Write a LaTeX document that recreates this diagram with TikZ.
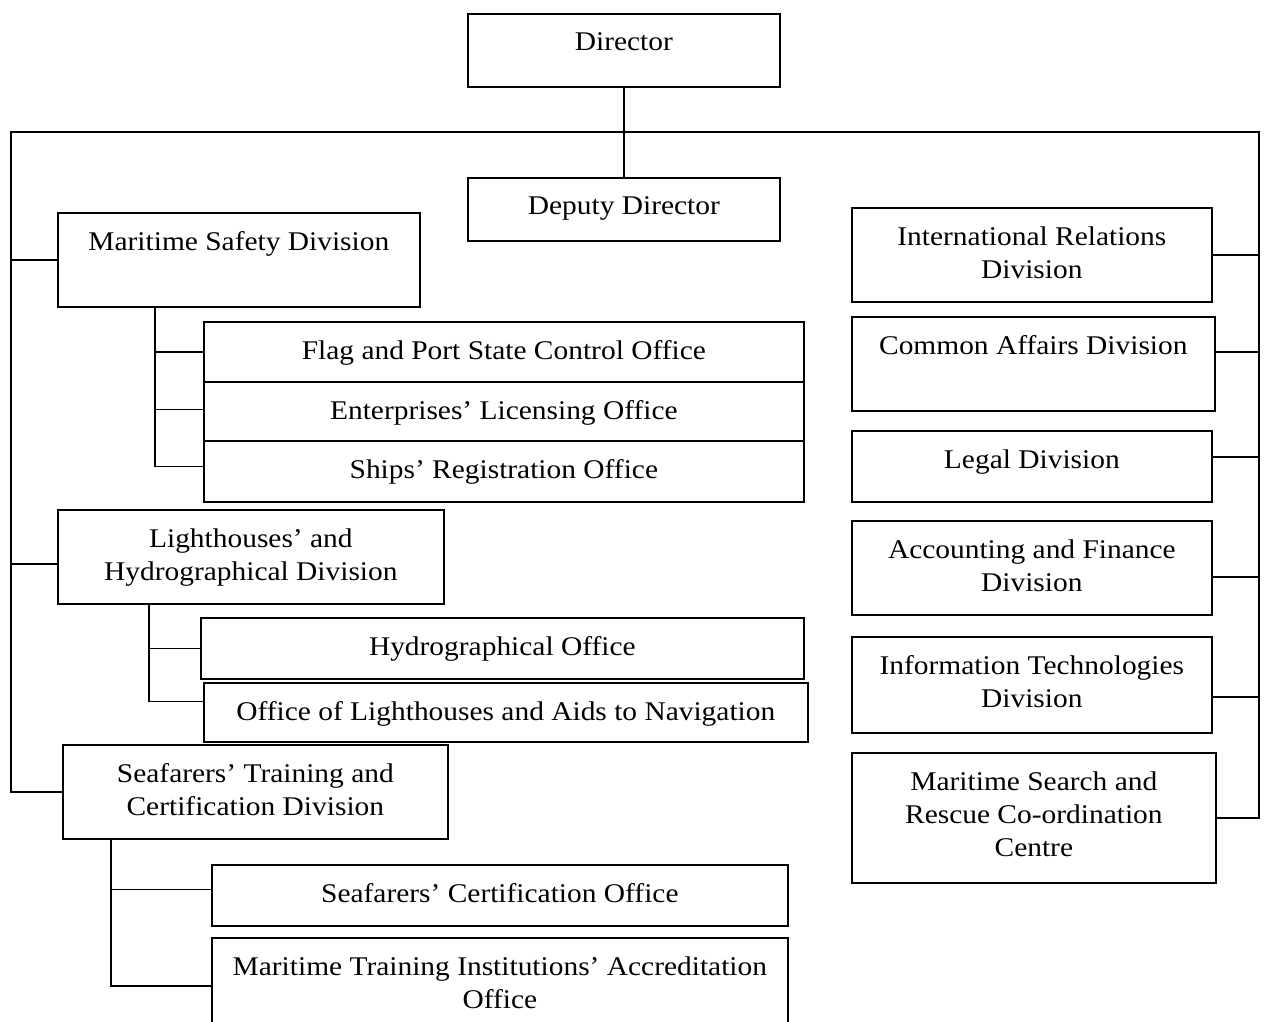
\documentclass[tikz,border=0pt]{standalone}
\usepackage{fontspec}
\setmainfont[FakeStretch=1.09]{Liberation Serif}
\tikzset{
  boxst/.style={draw, line width=1.7pt, inner sep=0pt, anchor=north west},
  txt/.style={inner sep=0pt, anchor=north, align=center, font=\fontsize{27}{33}\selectfont},
  link/.style={line width=1.7pt},
}
\newcommand\orgbox[6]{%
  \node[boxst, minimum width={(#4-#2)*1pt}, minimum height={(#5-#3)*1pt}] (#1) at (#2,#3) {};
  \node[txt] (#1t) at ([yshift=-19.5pt]#1.north) {#6};
}
\begin{document}
\begin{tikzpicture}[x=1pt,y=-1pt]
\path[use as bounding box] (0,0) rectangle (1264,1021);
\orgbox{dir}{467}{13}{779}{86}{Director}
\orgbox{dep}{467}{177}{779}{240}{Deputy Director}
\orgbox{msd}{57}{212}{419}{306}{Maritime Safety Division}
\orgbox{fps}{203}{321}{803}{381}{Flag and Port State Control Office}
\orgbox{elo}{203}{381}{803}{440}{Enterprises’ Licensing Office}
\orgbox{sro}{203}{440}{803}{501}{Ships’ Registration Office}
\orgbox{lhd}{57}{509}{443}{603}{Lighthouses’ and\\Hydrographical Division}
\orgbox{hyo}{200}{617}{803}{678}{Hydrographical Office}
\orgbox{ola}{203}{682}{807}{741}{Office of Lighthouses and Aids to Navigation}
\orgbox{stc}{62}{744}{447}{838}{Seafarers’ Training and\\Certification Division}
\orgbox{sco}{211}{864}{787}{925}{Seafarers’ Certification Office}
\orgbox{mti}{211}{937}{787}{1033}{Maritime Training Institutions’ Accreditation\\Office}
\orgbox{ird}{851}{207}{1211}{301}{International Relations\\Division}
\orgbox{cad}{851}{316}{1214}{410}{Common Affairs Division}
\orgbox{leg}{851}{430}{1211}{501}{Legal Division}
\orgbox{afd}{851}{520}{1211}{614}{Accounting and Finance\\Division}
\orgbox{itd}{851}{636}{1211}{732}{Information Technologies\\Division}
\orgbox{sar}{851}{752}{1215}{882}{Maritime Search and\\Rescue Co-ordination\\Centre}

\coordinate (TL) at (11,132);
\coordinate (TR) at (1259,132);
\draw[link] (dir.south) -- (dep.north);
\draw[link] (TR) -- (TL) |- (stc.west);
\draw[link] (TL) -- (TR) |- (sar.east);
\draw[link] (msd.west) -- (msd.west -| TL);
\draw[link] ([yshift=-7pt]lhd.west) -- ([yshift=-7pt]lhd.west -| TL);
\draw[link] (ird.east) -- (ird.east -| TR);
\draw[link] ([yshift=12pt]cad.east) -- ([yshift=12pt]cad.east -| TR);
\draw[link] ([yshift=9.5pt]leg.east) -- ([yshift=9.5pt]leg.east -| TR);
\draw[link] ([yshift=-9pt]afd.east) -- ([yshift=-9pt]afd.east -| TR);
\draw[link] ([yshift=-12pt]itd.east) -- ([yshift=-12pt]itd.east -| TR);

\coordinate (mB) at (155,306);
\draw[link] (mB) |- ([yshift=5pt]sro.west);
\draw[link] (mB |- fps.west) -- (fps.west);
\draw[link] ([yshift=2pt]mB |- elo.west) -- ([yshift=2pt]elo.west);
\coordinate (lB) at (149,603);
\draw[link] (lB) |- ([yshift=11pt]ola.west);
\draw[link] (lB |- hyo.west) -- (hyo.west);
\coordinate (sB) at (111,838);
\draw[link] (sB) |- (mti.west);
\draw[link] ([yshift=6pt]sco.west) -- ([yshift=6pt]sco.west -| sB);
\end{tikzpicture}
\end{document}
